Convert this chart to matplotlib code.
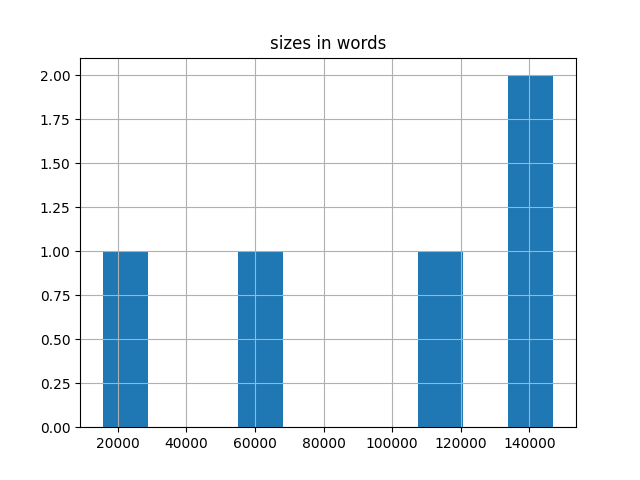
import pandas as pd
from matplotlib import pyplot as plt

# word counts
books = ["a", "b", "c", "d", "e"]
sizes = [15600, 60000, 115000, 140000, 147000]

df = pd.DataFrame({"sizes in words": sizes}, index=books)

fig, ax = plt.subplots(figsize=(6.4, 4.8), dpi=100)
df.hist(column="sizes in words", bins=10, ax=ax)

plt.savefig("out.png")
